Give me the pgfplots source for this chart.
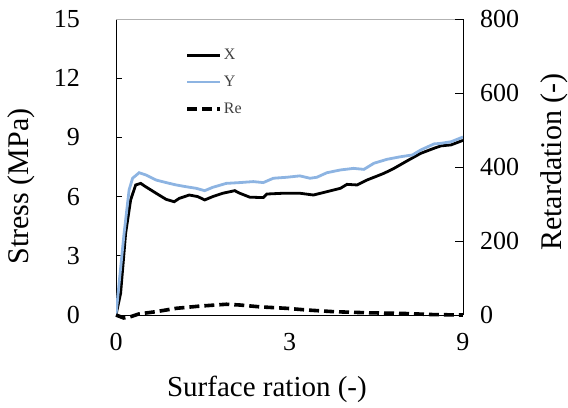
\documentclass[border=0pt]{standalone}
\usepackage{fontspec}
\setmainfont{Liberation Serif}
\usepackage{pgfplots}
\pgfplotsset{compat=1.18}
\usetikzlibrary{calc}
\definecolor{ylight}{RGB}{141,180,226}

\pgfplotstableread{
x y
0 0
0.12 1.1
0.25 4.14
0.38 5.83
0.51 6.59
0.64 6.67
0.77 6.50
1.04 6.17
1.30 5.86
1.51 5.74
1.64 5.91
1.90 6.08
2.12 6.00
2.30 5.83
2.51 6.00
2.77 6.17
3.08 6.30
3.21 6.17
3.47 5.97
3.82 5.95
3.91 6.13
4.34 6.17
4.77 6.17
5.12 6.08
5.47 6.25
5.82 6.42
5.99 6.62
6.25 6.59
6.51 6.84
6.95 7.18
7.21 7.43
7.56 7.82
7.90 8.19
8.25 8.45
8.43 8.57
8.69 8.62
9.00 8.85
}\dataX

\pgfplotstableread{
x y
0 0
0.08 1.6
0.21 4.14
0.34 6.34
0.43 6.93
0.60 7.21
0.77 7.10
1.04 6.84
1.30 6.71
1.56 6.59
1.82 6.50
2.08 6.42
2.30 6.30
2.51 6.47
2.86 6.67
3.21 6.71
3.56 6.76
3.82 6.71
4.08 6.93
4.43 6.98
4.77 7.05
5.03 6.93
5.21 6.98
5.47 7.21
5.82 7.35
6.16 7.43
6.43 7.38
6.69 7.69
7.03 7.89
7.38 8.02
7.69 8.11
7.90 8.36
8.25 8.67
8.43 8.70
8.69 8.78
9.00 9.02
}\dataY

\pgfplotstableread{
x y
0 0
0.20 -8
0.34 -6
0.60 3
1.04 9
1.56 18
2.17 24
2.86 29
3.21 27
3.73 22
4.43 18
4.95 13.5
5.64 9
6.51 6
7.38 4.5
8.25 1
9.00 0
}\dataRe

\begin{document}
\begin{tikzpicture}
\begin{axis}[
  name=ax,
  scale only axis, width=347pt, height=296pt,
  xmin=0, xmax=9, ymin=0, ymax=15,
  axis x line*=bottom, axis y line*=left,
  axis line style={black, line width=0.8pt, -},
  xtick={0,4.5,9}, xticklabels={0,3,9},
  ytick={0,3,6,9,12,15},
  tick align=inside,
  major tick length=6pt,
  xtick style={draw=none},
  ytick style={black, line width=0.6pt},
  /pgf/number format/assume math mode=true,
  ticklabel style={font=\fontsize{26}{30}\selectfont, inner sep=0pt},
  yticklabel style={xshift=-36pt},
  xticklabel style={yshift=-18pt},
  xlabel={Surface ration (-)},
  xlabel style={font=\fontsize{29}{34}\selectfont, at={(axis description cs:0.435,0)}, anchor=north, yshift=-61pt, inner sep=0pt},
  clip=true,
]
\draw[gray!60, line width=0.5pt] (rel axis cs:0,1) -- (rel axis cs:1,1);
\addplot[black, line width=2.8pt, no marks] table[x=x,y=y] {\dataX};
\addplot[ylight, line width=2.8pt, no marks] table[x=x,y=y] {\dataY};
\end{axis}
\begin{axis}[
  scale only axis, width=347pt, height=296pt,
  xmin=0, xmax=9, ymin=0, ymax=800,
  axis x line=none, axis y line*=right,
  axis line style={black, line width=0.8pt, -},
  ytick={0,200,400,600,800},
  tick align=inside,
  major tick length=8pt,
  ytick style={black, line width=0.6pt},
  /pgf/number format/assume math mode=true,
  ticklabel style={font=\fontsize{26}{30}\selectfont, inner sep=0pt},
  yticklabel style={anchor=west, xshift=17pt},
  legend style={draw=none, fill=none, at={(axis description cs:0.199,0.905)}, anchor=north west, font=\fontsize{16}{19}\selectfont, text=black!75, row sep=11pt, inner sep=0pt, nodes={inner sep=2pt}},
  legend cell align=left,
  legend image code/.code={\draw[#1] (0pt,0pt) -- (33pt,0pt);},
  clip=false,
]
\addlegendimage{black, line width=2.8pt}
\addlegendentry{X}
\addlegendimage{ylight, line width=2.4pt}
\addlegendentry{Y}
\addplot[black, line width=3.6pt, dash pattern=on 10pt off 5pt, no marks] table[x=x,y=y] {\dataRe};
\addlegendentry{Re}
\end{axis}
\node[rotate=90, anchor=south, inner sep=0pt, font=\fontsize{30}{36}\selectfont]
  at ($(ax.south west)!0.434!(ax.north west)+(-81pt,0)$) {Stress (MPa)};
\node[rotate=90, anchor=north, inner sep=0pt, font=\fontsize{30}{36}\selectfont]
  at ($(ax.south east)!0.517!(ax.north east)+(77pt,0)$) {Retardation (-)};
\pgfresetboundingbox
\path[use as bounding box] ([shift={(-116pt,-93pt)}]ax.south west) rectangle ([shift={(105pt,19pt)}]ax.north east);
\end{tikzpicture}
\end{document}
